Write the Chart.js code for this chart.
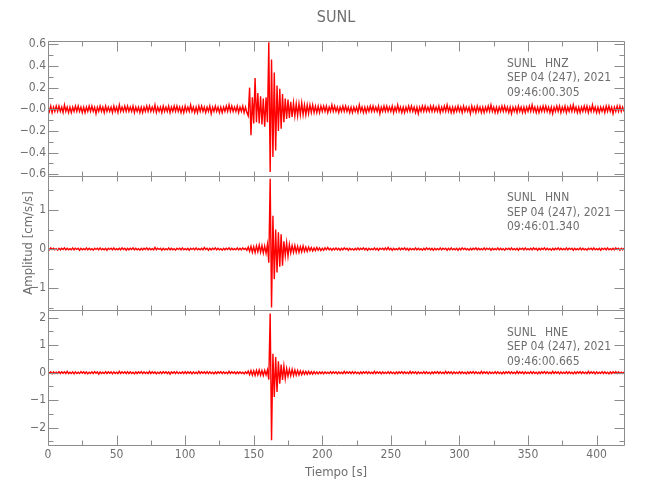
<!DOCTYPE html>
<html>
<head>
<meta charset="utf-8">
<title>SUNL</title>
<script src="https://cdn.jsdelivr.net/npm/chart.js@4.4.1/dist/chart.umd.min.js"></script>
<style>
  html, body { margin: 0; padding: 0; background: #fff; }
  #wrap { width: 650px; height: 500px; }
</style>
</head>
<body>
<div id="wrap"><canvas id="sismo" width="650" height="500"></canvas></div>
<script>
// SUNL accelerograms, one sample per second, values in 0.01 cm/s/s
const station = 'SUNL';
const channels = ['HNZ', 'HNN', 'HNE'];
const dateText = 'SEP 04 (247), 2021';
const startTimes = ['09:46:00.305', '09:46:01.340', '09:46:00.665'];
const sampleStep = 1;

const hnz = [
  /*   0 */ 2,-2,3,-3,2,-2,3,-2,3,-2,2,-3,4,-2,2,-3,2,-3,2,-2,
  /*  20 */ 3,-2,3,-2,2,-3,2,-3,2,-2,3,-2,3,-2,2,-4,2,-2,3,-2,
  /*  40 */ 2,-3,3,-2,2,-2,2,-3,3,-2,2,-3,4,-2,2,-2,3,-2,3,-2,
  /*  60 */ 2,-2,3,-3,2,-2,2,-3,2,-3,2,-2,3,-2,3,-2,2,-2,4,-3,
  /*  80 */ 2,-2,2,-3,3,-2,2,-2,3,-3,2,-2,3,-2,3,-2,2,-3,2,-3,
  /* 100 */ 3,-2,2,-2,4,-2,2,-3,2,-3,3,-2,3,-2,2,-3,2,-2,3,-4,
  /* 120 */ 2,-2,3,-2,2,-3,2,-3,2,-2,3,-2,4,-2,3,-2,2,-2,3,-3,
  /* 140 */ 2,-2,3,-3,2,-3,-6,20,-24,11,-13,29,-12,15,-13,12,-14,10,-16,11,
  /* 160 */ -12,62,-58,46,-44,34,-38,22,-20,19,-18,14,-12,10,-9,9,-8,7,-7,6,
  /* 180 */ -6,5,-6,5,-5,6,-5,4,-5,4,-4,4,-3,4,-3,3,-3,3,-3,3,
  /* 200 */ -2,3,-2,3,-3,2,-2,4,-2,3,-2,2,-3,2,-2,3,-2,3,-2,2,
  /* 220 */ -3,2,-3,2,-2,2,-3,4,-2,2,-3,2,-3,2,-2,3,-2,3,-2,2,
  /* 240 */ -2,3,-4,2,-2,3,-2,3,-2,2,-2,3,-3,2,-2,4,-2,2,-3,2,
  /* 260 */ -3,2,-2,3,-2,3,-2,2,-3,2,-4,2,-2,3,-2,3,-2,2,-2,3,
  /* 280 */ -2,3,-2,2,-2,3,-3,2,-2,3,-2,4,-2,2,-3,2,-3,2,-2,3,
  /* 300 */ -2,2,-3,3,-2,2,-2,2,-4,3,-2,2,-3,3,-2,2,-3,2,-3,2,
  /* 320 */ -2,3,-2,4,-2,2,-3,2,-3,2,-2,3,-2,3,-2,2,-3,2,-4,2,
  /* 340 */ -2,2,-3,3,-2,2,-3,2,-3,2,-2,3,-2,4,-2,2,-3,2,-3,2,
  /* 360 */ -2,3,-2,3,-2,2,-3,2,-4,2,-2,3,-2,3,-3,2,-2,3,-3,2,
  /* 380 */ -2,3,-2,4,-2,2,-3,2,-3,2,-2,3,-2,3,-3,2,-2,4,-2,2,
  /* 400 */ -3,2,-3,2,-2,2,-3,3,-2,3,-2,2,-4,2,-2,3,-2,3,-2,2,
  /* 420 */ -2
];

const hnn = [
  /*   0 */ 2,-2,3,-1,2,-2,1,-3,2,-2,2,-1,3,-2,2,-2,1,-2,3,-2,
  /*  20 */ 2,-1,2,-3,2,-2,1,-2,3,-2,2,-2,1,-3,2,-1,2,-2,3,-2,
  /*  40 */ 1,-2,2,-3,2,-1,2,-2,3,-2,1,-2,2,-2,3,-1,2,-3,2,-2,
  /*  60 */ 2,-1,3,-2,2,-2,1,-3,2,-2,2,-1,3,-2,2,-2,1,-2,4,-2,
  /*  80 */ 2,-1,2,-3,2,-2,1,-2,3,-2,2,-2,1,-3,2,-1,2,-2,3,-2,
  /* 100 */ 1,-2,2,-3,2,-1,2,-2,3,-2,1,-2,2,-2,4,-1,2,-3,2,-2,
  /* 120 */ 2,-1,3,-2,2,-2,1,-3,2,-2,2,-1,3,-2,2,-2,1,-2,3,-2,
  /* 140 */ 2,-2,3,-1,2,-3,5,-6,7,-8,6,-9,8,-7,10,-8,9,-10,8,-11,
  /* 160 */ 12,-35,180,-150,85,-77,50,-60,43,-45,38,-43,20,-17,16,-18,12,-10,9,-8,
  /* 180 */ 9,-8,7,-8,6,-7,8,-6,5,-6,5,-4,4,-5,3,-4,4,-3,3,-4,
  /* 200 */ 2,-3,3,-2,4,-2,2,-3,2,-2,3,-2,2,-3,2,-2,3,-1,2,-3,
  /* 220 */ 2,-2,1,-3,2,-2,3,-2,2,-1,3,-2,2,-3,2,-2,1,-2,3,-2,
  /* 240 */ 2,-3,2,-1,2,-2,3,-2,4,-2,2,-3,2,-2,1,-2,3,-2,2,-1,
  /* 260 */ 3,-2,2,-3,2,-2,1,-2,3,-2,2,-2,1,-3,2,-2,3,-1,2,-2,
  /* 280 */ 2,-3,2,-2,1,-2,3,-2,2,-1,2,-3,2,-2,3,-2,1,-2,2,-3,
  /* 300 */ 2,-2,3,-1,2,-2,1,-3,2,-2,2,-1,3,-2,2,-2,1,-2,3,-2,
  /* 320 */ 2,-1,2,-3,2,-2,1,-2,3,-2,2,-2,1,-3,2,-1,2,-2,3,-2,
  /* 340 */ 1,-2,2,-3,2,-1,2,-2,3,-2,1,-2,2,-2,3,-1,2,-3,2,-2,
  /* 360 */ 2,-1,3,-2,2,-2,1,-3,2,-2,2,-1,3,-2,2,-2,1,-2,3,-2,
  /* 380 */ 2,-1,2,-3,2,-2,1,-2,3,-2,2,-2,1,-3,2,-1,2,-2,3,-2,
  /* 400 */ 1,-2,2,-3,2,-1,2,-2,3,-2,1,-2,2,-2,3,-1,2,-3,2,-2,
  /* 420 */ 2
];

const hne = [
  /*   0 */ 3,-2,3,-4,3,-3,2,-3,4,-3,3,-2,3,-3,5,-3,2,-3,3,-4,
  /*  20 */ 3,-3,2,-3,4,-2,3,-3,3,-4,2,-3,3,-3,4,-2,3,-5,3,-3,
  /*  40 */ 2,-3,4,-3,3,-2,3,-4,3,-3,2,-3,5,-3,3,-2,3,-3,4,-3,
  /*  60 */ 3,-3,2,-4,3,-3,3,-2,4,-3,3,-3,2,-3,5,-3,3,-2,3,-4,
  /*  80 */ 2,-3,3,-3,4,-2,3,-3,3,-5,3,-2,3,-3,4,-3,2,-3,3,-3,
  /* 100 */ 4,-3,3,-2,3,-4,3,-3,2,-3,5,-3,3,-2,3,-3,4,-3,3,-3,
  /* 120 */ 2,-4,3,-3,3,-2,4,-3,3,-3,2,-3,5,-3,3,-2,3,-4,3,-3,
  /* 140 */ 3,-3,2,-4,3,-3,6,-7,8,-9,7,-10,9,-8,10,-9,8,-10,9,-8,
  /* 160 */ 10,-25,215,-246,69,-88,57,-70,42,-40,30,-26,24,-22,15,-13,12,-11,12,-10,
  /* 180 */ 10,-9,8,-8,7,-7,6,-6,5,-6,5,-5,4,-5,4,-4,3,-4,3,-3,
  /* 200 */ 3,-4,3,-3,2,-3,4,-3,3,-2,3,-4,3,-3,2,-3,5,-3,3,-2,
  /* 220 */ 3,-3,4,-3,3,-3,2,-4,3,-3,3,-2,4,-3,3,-3,2,-3,5,-3,
  /* 240 */ 3,-2,3,-4,3,-3,2,-3,4,-3,3,-3,2,-4,3,-3,3,-2,4,-3,
  /* 260 */ 3,-3,2,-3,5,-3,3,-2,3,-4,3,-3,2,-3,4,-3,3,-3,2,-4,
  /* 280 */ 3,-3,3,-2,4,-3,3,-3,2,-3,5,-3,3,-2,3,-4,3,-3,2,-3,
  /* 300 */ 4,-3,3,-3,2,-4,3,-3,3,-2,4,-3,3,-3,2,-3,5,-3,3,-2,
  /* 320 */ 3,-4,3,-3,2,-3,4,-3,3,-3,2,-4,3,-3,3,-2,4,-3,3,-3,
  /* 340 */ 2,-3,5,-3,3,-2,3,-4,3,-3,2,-3,4,-3,3,-3,2,-4,3,-3,
  /* 360 */ 3,-2,4,-3,3,-3,2,-3,5,-3,3,-2,3,-4,3,-3,2,-3,4,-3,
  /* 380 */ 3,-3,2,-4,3,-3,3,-2,4,-3,3,-3,2,-3,5,-3,3,-2,3,-4,
  /* 400 */ 3,-3,2,-3,4,-3,3,-3,2,-4,3,-3,3,-2,4,-3,3,-3,2,-3,
  /* 420 */ 3
];

const timeTicks = [0, 50, 100, 150, 200, 250, 300, 350, 400];
const hnzTicks = [-0.6, -0.4, -0.2, 0, 0.2, 0.4, 0.6];
const hnnTicks = [-1, 0, 1];
const hneTicks = [-2, -1, 0, 1, 2];
const hnzRange = [-0.613, 0.631];
const hnnRange = [-1.57, 1.88];
const hneRange = [-2.63, 2.27];

const FONT = '"DejaVu Sans Condensed", "DejaVu Sans", sans-serif';
const TEXT = '#6e6e6e';
const AXIS = '#8c8c8c';
const RED = '#ff0000';
const MINUS = '\u2212';

Chart.defaults.font.family = FONT;
Chart.defaults.color = TEXT;

const toPoints = vals => vals.map((v, i) => ({ x: i * sampleStep, y: v / 100 }));

function fmtSigned(v, digits) {
  if (v === 0) return digits ? MINUS + (0).toFixed(digits) : '0';
  const s = Math.abs(v).toFixed(digits);
  return v < 0 ? MINUS + s : s;
}

function yAxis(ticks, range, digits, title) {
  return {
    type: 'linear',
    position: 'left',
    stack: 'sismo',
    stackWeight: 1,
    min: range[0],
    max: range[1],
    grid: { display: false, drawTicks: false },
    border: { display: false },
    afterBuildTicks: s => { s.ticks = ticks.map(v => ({ value: v })); },
    afterFit: s => { s.width = 48; },
    ticks: { padding: 2, autoSkip: false, font: { size: 12 }, color: TEXT, callback: v => fmtSigned(v, digits) },
    title: title
      ? { display: true, text: title, color: TEXT, font: { size: 13 }, padding: { top: 21, bottom: 0 } }
      : { display: false }
  };
}

// box, inward ticks and channel labels for each panel
const seismoFrame = {
  id: 'seismoFrame',
  afterDraw(chart) {
    const { ctx, chartArea: area, scales } = chart;
    const xs = scales.x;
    const px = v => Math.round(v) + 0.5;
    const left = px(area.left), right = px(area.right);
    ctx.save();
    ctx.strokeStyle = AXIS;
    ctx.lineWidth = 1;
    ctx.beginPath();
    ['yZ', 'yN', 'yE'].forEach((id, i) => {
      const ys = scales[id];
      const top = px(ys.top), bottom = px(ys.bottom);
      ctx.rect(left, top, right - left, bottom - top);

      const vals = ys.ticks.map(t => t.value);
      const step = vals[1] - vals[0];
      vals.forEach(v => {
        const y = px(ys.getPixelForValue(v));
        ctx.moveTo(left, y); ctx.lineTo(left + 10, y);
        ctx.moveTo(right, y); ctx.lineTo(right - 10, y);
      });
      for (let v = vals[0] - step / 2; v < ys.max; v += step) {
        if (v <= ys.min) continue;
        const y = px(ys.getPixelForValue(v));
        ctx.moveTo(left, y); ctx.lineTo(left + 5, y);
        ctx.moveTo(right, y); ctx.lineTo(right - 5, y);
      }

      const xv = xs.ticks.map(t => t.value);
      const xstep = xv[1] - xv[0];
      const marks = [];
      xv.forEach(v => marks.push([v, true]));
      xv.forEach(v => { if (v + xstep / 2 < xs.max) marks.push([v + xstep / 2, false]); });
      marks.forEach(([v, major]) => {
        const x = px(xs.getPixelForValue(v));
        const lt = i === 0 ? (major ? 10 : 5) : 5;
        const lb = i === 2 ? (major ? 10 : 5) : 5;
        ctx.moveTo(x, top); ctx.lineTo(x, top + lt);
        ctx.moveTo(x, bottom); ctx.lineTo(x, bottom - lb);
      });
    });
    ctx.stroke();

    ctx.fillStyle = TEXT;
    ctx.font = '12px ' + FONT;
    ctx.textAlign = 'left';
    ctx.textBaseline = 'alphabetic';
    ['yZ', 'yN', 'yE'].forEach((id, i) => {
      const ys = scales[id];
      const x0 = area.right - 117;
      ctx.fillText(station, x0, ys.top + 25.5);
      ctx.fillText(channels[i], x0 + 38, ys.top + 25.5);
      ctx.fillText(dateText, x0, ys.top + 40);
      ctx.fillText(startTimes[i], x0, ys.top + 54.5);
    });
    ctx.restore();
  }
};

const lineStyle = { borderColor: RED, borderWidth: 1.4, pointRadius: 0, tension: 0, fill: false };

new Chart(document.getElementById('sismo').getContext('2d'), {
  type: 'line',
  data: {
    datasets: [
      { label: channels[0], data: toPoints(hnz), yAxisID: 'yZ', ...lineStyle },
      { label: channels[1], data: toPoints(hnn), yAxisID: 'yN', ...lineStyle },
      { label: channels[2], data: toPoints(hne), yAxisID: 'yE', ...lineStyle }
    ]
  },
  options: {
    responsive: false,
    animation: false,
    events: [],
    layout: { padding: { left: 0, right: 26, top: 0, bottom: 0 } },
    scales: {
      yE: yAxis(hneTicks, hneRange, 0),
      yN: yAxis(hnnTicks, hnnRange, 0, 'Amplitud [cm/s/s]'),
      yZ: yAxis(hnzTicks, hnzRange, 1),
      x: {
        type: 'linear',
        min: 0,
        max: 420,
        grid: { display: false, drawTicks: false },
        border: { display: false },
        afterBuildTicks: s => { s.ticks = timeTicks.map(v => ({ value: v })); },
        afterFit: s => { s.height = 55; },
        ticks: { padding: 3, maxRotation: 0, autoSkip: false, font: { size: 12 }, color: TEXT },
        title: { display: true, text: 'Tiempo [s]', color: TEXT, font: { size: 13 }, padding: { top: 0, bottom: 20 } }
      }
    },
    plugins: {
      legend: { display: false },
      tooltip: { enabled: false },
      title: {
        display: true,
        text: station,
        fullSize: false,
        color: TEXT,
        font: { size: 16, weight: 'normal' },
        padding: { top: 8, bottom: 13.8 }
      }
    }
  },
  plugins: [seismoFrame]
});
</script>
</body>
</html>
